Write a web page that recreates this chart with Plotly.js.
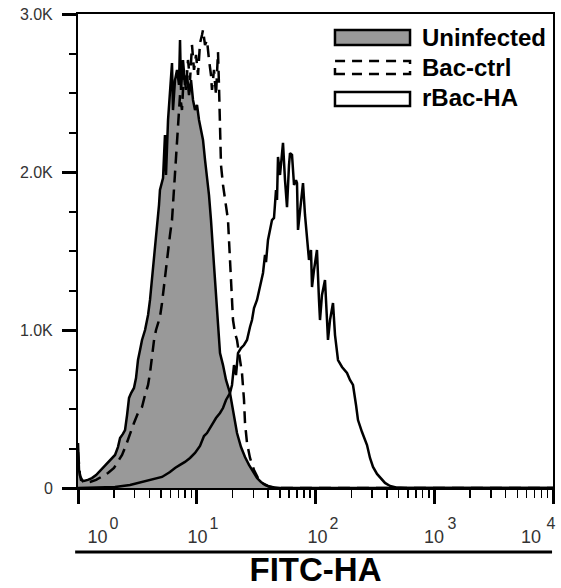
<!DOCTYPE html>
<html>
<head>
<meta charset="utf-8">
<script src="https://cdn.plot.ly/plotly-3.0.1.min.js"></script>
<style>html,body{margin:0;padding:0;background:#fff;}#chart{width:561px;height:588px;}</style>
</head>
<body>
<div id="chart"></div>
<script>
// ---- Data (fluorescence intensity vs. event count) ----
const uninfX = [1.00,1.02,1.06,1.12,1.21,1.31,1.42,1.53,1.66,1.79,1.93,2.05,2.17,2.26,2.39,2.49,2.59,2.69,2.80,2.96,3.08,3.20,3.33,3.46,3.67,3.89,4.04,4.20,4.45,4.63,4.81,4.90,5.20,5.40,5.51,5.73,5.95,6.19,6.31,6.56,6.82,7.09,7.23,7.37,7.66,7.96,8.28,8.61,8.95,9.30,9.67,10.05,10.45,10.86,11.29,11.74,12.20,12.68,13.18,13.44,13.97,14.25,14.81,15.39,15.70,16.64,17.64,19.05,20.20,21.83,23.59,25.49,27.54,29.76,32.17,34.76,37.56,41.39,50.24,10000];
const uninfY = [285,114,51,44,51,63,82,108,139,165,190,209,259,316,342,367,462,570,601,633,696,810,873,937,1000,1095,1190,1316,1506,1665,1791,1886,1962,2234,1981,2329,2487,2690,2392,2582,2646,2551,2835,2519,2709,2551,2614,2487,2582,2456,2392,2424,2329,2266,2203,2076,1981,1854,1696,1570,1411,1316,1127,937,854,778,684,601,494,348,259,196,146,101,63,38,19,6,0,0];

const bacX = [1.00,1.04,1.12,1.26,1.42,1.59,1.79,2.01,2.17,2.35,2.54,2.74,2.96,3.20,3.46,3.67,3.89,4.04,4.20,4.37,4.54,4.72,4.90,5.10,5.30,5.40,5.62,5.73,5.95,6.19,6.43,6.69,6.95,7.23,7.51,7.81,8.12,8.44,8.78,9.12,9.48,9.86,10.25,10.65,11.07,11.29,11.74,12.20,12.68,13.18,13.44,13.97,14.53,15.10,15.39,15.70,16.00,16.64,17.64,18.33,18.69,19.05,19.43,20.20,21.00,21.83,23.13,24.04,25.00,25.49,26.50,28.08,30.35,32.80,35.44,39.81,46.50,10000];
const bacY = [228,76,32,38,51,70,95,127,165,209,272,348,411,475,513,589,652,728,842,937,1000,1051,1082,1171,1285,1335,1443,1487,1601,1696,1886,2139,2329,2487,2392,2646,2519,2709,2582,2804,2646,2741,2614,2816,2867,2899,2804,2835,2709,2614,2519,2646,2487,2759,2551,2285,2044,1918,1791,1696,1570,1430,1285,1063,981,937,810,728,557,411,285,190,114,63,32,13,0,0];

const rbacX = [1.00,1.15,1.53,2.05,2.74,3.46,4.20,5.10,5.95,6.56,7.23,7.96,8.78,9.67,10.65,11.51,12.20,12.93,13.70,14.53,15.70,16.64,17.64,19.05,19.81,20.59,21.41,22.25,23.59,25.00,26.50,27.54,28.08,29.19,30.35,32.17,33.44,34.76,36.14,37.56,38.31,39.81,41.39,43.02,44.72,46.50,47.40,48.33,50.24,51.23,53.25,55.37,57.54,59.82,61.00,63.41,65.92,68.52,69.86,71.24,74.06,76.98,78.49,81.58,84.81,88.16,91.65,93.44,97.14,102.9,107.0,109.1,113.4,120.2,125.0,127.4,132.5,140.4,146.0,154.7,167.2,184.2,195.2,206.9,219.4,228.0,246.4,261.2,271.5,287.7,305.0,329.6,356.1,384.8,424.1,476.4,567.3,10000];
const rbacY = [0,2,3,6,19,38,57,70,101,127,146,165,190,222,266,329,348,380,411,443,475,506,557,601,652,778,715,854,886,905,937,1000,1019,1063,1139,1190,1253,1316,1361,1475,1430,1570,1633,1696,1709,1886,1823,2095,1981,2044,2184,1949,1778,2044,2120,2108,1918,1949,1930,1633,1759,1886,1930,1728,1570,1443,1506,1272,1380,1506,1190,1063,1222,1316,1063,937,1063,1171,968,810,766,728,684,652,525,430,354,304,272,190,133,89,57,32,13,3,0,0];

const seriesNames = ['Uninfected','Bac-ctrl','rBac-HA'];

// axis ticks and labels
const xMajor = [1,10,100,1000,10000];
const xMinor = [2,3,4,5,6,7,8,9,20,30,40,50,60,70,80,90,200,300,400,500,600,700,800,900,2000,3000,4000,5000,6000,7000,8000,9000];
const xBasePos = [1.46,10.15,104,995,6530];
const xBaseText = ['10','10','10','10','10'];
const xExpPos = [2.01,13.97,143,1410,9620];
const xExpText = ['0','1','2','3','4'];
const yTickVals = [0,1000,2000,3000];
const yTickText = ['0','1.0K','2.0K','3.0K'];

const FONT = 'Liberation Sans, Arial, Helvetica, sans-serif';

const traces = [
  {x: uninfX, y: uninfY, name: seriesNames[0], type:'scatter', mode:'lines',
   line:{color:'#000', width:2.5}, fill:'tozeroy', fillcolor:'#999999'},
  {x: bacX, y: bacY, name: seriesNames[1], type:'scatter', mode:'lines',
   line:{color:'#000', width:2.5, dash:'12px,7px'}},
  {x: rbacX, y: rbacY, name: seriesNames[2], type:'scatter', mode:'lines',
   line:{color:'#000', width:2.5}},
  {x: [], y: [], xaxis:'x2', type:'scatter', mode:'lines', showlegend:false, hoverinfo:'skip'},
  {x: [], y: [], xaxis:'x3', type:'scatter', mode:'lines', showlegend:false, hoverinfo:'skip'}
];

// custom legend geometry (paper coords)
const lgX0 = 0.541, lgX1 = 0.699, lgTextX = 0.72;
const lgRows = [[0.9346,0.9662,0.9494],[0.8734,0.9008,0.888],[0.8059,0.8354,0.8228]];
const lgFill = ['#999999','#ffffff','#ffffff'];
const lgDash = ['solid','10px,7px','solid'];

const shapes = lgRows.map((r,i)=>({type:'rect', xref:'paper', yref:'paper',
  x0:lgX0, x1:lgX1, y0:r[0], y1:r[1], fillcolor:lgFill[i], line:{color:'#000', width:2.5, dash:lgDash[i]}}));
shapes.push({type:'line', xref:'paper', yref:'paper', x0:-0.006, x1:0.998, y0:-0.135, y1:-0.135,
  line:{color:'#000', width:3}});

const annotations = lgRows.map((r,i)=>({xref:'paper', yref:'paper', x:lgTextX, y:r[2],
  xanchor:'left', yanchor:'middle', showarrow:false, text:'<b>'+seriesNames[i]+'</b>',
  font:{family:FONT, size:24, color:'#000'}}));

const layout = {
  width:561, height:588,
  margin:{l:78, r:8, t:14, b:100, pad:0},
  paper_bgcolor:'#fff', plot_bgcolor:'#fff',
  showlegend:false,
  xaxis:{type:'log', range:[0,4], showline:true, linewidth:2, linecolor:'#000', mirror:true,
    ticks:'outside', ticklen:14, tickwidth:3, tickcolor:'#000', tickmode:'array', tickvals:xMajor,
    showticklabels:false, showgrid:false, zeroline:false,
    minor:{ticks:'outside', ticklen:8, tickwidth:1.5, tickcolor:'#000', tickmode:'array', tickvals:xMinor, showgrid:false},
    title:{text:'<b>FITC-HA</b>', font:{family:FONT, size:33, color:'#000'}, standoff:55}},
  xaxis2:{type:'log', range:[0,4], overlaying:'x', anchor:'y', side:'bottom', showline:false, ticks:'',
    showgrid:false, zeroline:false, tickmode:'array', tickvals:xBasePos, ticktext:xBaseText,
    tickfont:{family:FONT, size:18, color:'#333'}, ticklabelstandoff:36},
  xaxis3:{type:'log', range:[0,4], overlaying:'x', anchor:'y', side:'bottom', showline:false, ticks:'',
    showgrid:false, zeroline:false, tickmode:'array', tickvals:xExpPos, ticktext:xExpText,
    tickfont:{family:FONT, size:16, color:'#333'}, ticklabelstandoff:24},
  yaxis:{range:[0,3000], showline:true, linewidth:2, linecolor:'#000', mirror:true,
    ticks:'outside', ticklen:14, tickwidth:3, tickcolor:'#000', tickmode:'array',
    tickvals:yTickVals, ticktext:yTickText, tickfont:{family:FONT, size:16, color:'#333'},
    ticklabelstandoff:6, showgrid:false, zeroline:false,
    minor:{ticks:'outside', ticklen:7, tickwidth:2, tickcolor:'#000', dtick:250, tick0:0, showgrid:false}},
  shapes:shapes,
  annotations:annotations
};

Plotly.newPlot('chart', traces, layout, {staticPlot:true, displayModeBar:false});
</script>
</body>
</html>
